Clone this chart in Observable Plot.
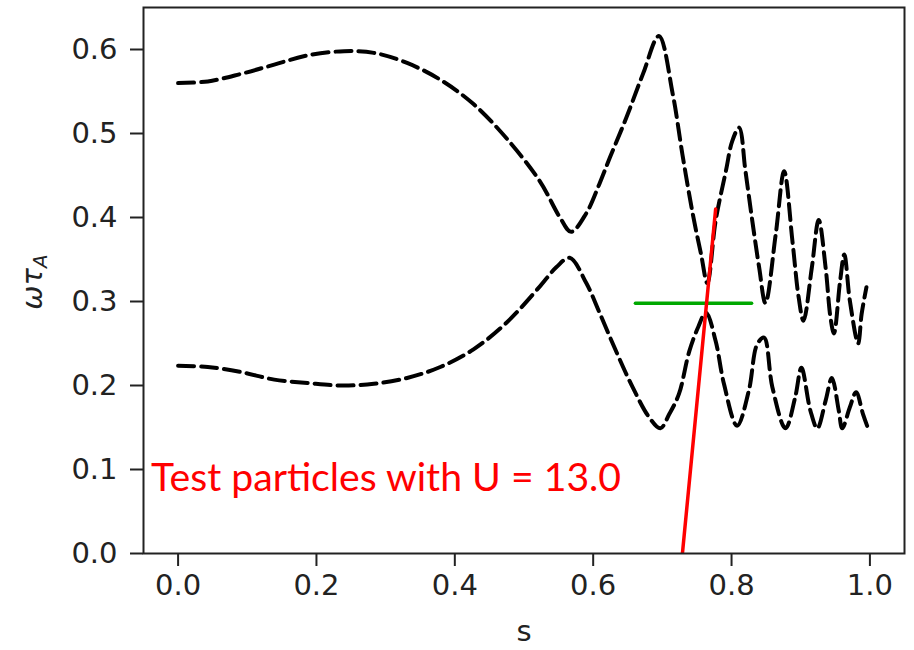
<!DOCTYPE html>
<html>
<head>
<meta charset="utf-8">
<script src="https://cdn.jsdelivr.net/npm/d3@7"></script>
<script src="https://cdn.jsdelivr.net/npm/@observablehq/plot@0.6"></script>
<style>
  html, body { margin: 0; padding: 0; background: white; }
  #chart svg { display: block; }
</style>
</head>
<body>
<div id="chart"></div>
<script>
// Upper branch (dashed)
const upperS = [0.000, 0.043, 0.091, 0.139, 0.187, 0.240, 0.283, 0.331, 0.379, 0.427, 0.475, 0.523, 0.552, 0.568, 0.590, 0.609, 0.624, 0.648, 0.672, 0.695, 0.715, 0.729, 0.744, 0.756, 0.765, 0.777, 0.792, 0.801, 0.811, 0.820, 0.830, 0.840, 0.849, 0.864, 0.876, 0.888, 0.897, 0.904, 0.916, 0.926, 0.936, 0.943, 0.948, 0.957, 0.963, 0.971, 0.983, 0.988, 0.995];
const upperW = [0.560, 0.562, 0.571, 0.582, 0.593, 0.598, 0.596, 0.584, 0.564, 0.535, 0.494, 0.443, 0.400, 0.383, 0.405, 0.440, 0.471, 0.519, 0.571, 0.616, 0.547, 0.475, 0.404, 0.356, 0.322, 0.396, 0.456, 0.491, 0.507, 0.456, 0.396, 0.340, 0.298, 0.381, 0.455, 0.372, 0.305, 0.277, 0.340, 0.397, 0.340, 0.281, 0.262, 0.325, 0.356, 0.301, 0.250, 0.285, 0.317];

// Lower branch (dashed)
const lowerS = [0.000, 0.043, 0.091, 0.139, 0.187, 0.235, 0.283, 0.331, 0.379, 0.427, 0.475, 0.523, 0.547, 0.566, 0.590, 0.609, 0.633, 0.657, 0.681, 0.697, 0.710, 0.724, 0.739, 0.752, 0.763, 0.777, 0.789, 0.808, 0.825, 0.837, 0.847, 0.859, 0.878, 0.892, 0.901, 0.914, 0.924, 0.936, 0.945, 0.955, 0.960, 0.971, 0.980, 0.990, 0.996];
const lowerW = [0.2235, 0.222, 0.216, 0.207, 0.203, 0.200, 0.202, 0.209, 0.222, 0.243, 0.275, 0.318, 0.341, 0.352, 0.322, 0.287, 0.241, 0.198, 0.162, 0.149, 0.166, 0.190, 0.241, 0.270, 0.287, 0.253, 0.202, 0.152, 0.194, 0.249, 0.257, 0.198, 0.149, 0.186, 0.221, 0.170, 0.149, 0.182, 0.209, 0.170, 0.149, 0.174, 0.192, 0.166, 0.152];

// Test particle line (red) and reference line (green)
const redS = [0.729, 0.777];
const redW = [0.0, 0.41];
const greenS = [0.661, 0.829];
const greenW = [0.298, 0.298];

// Annotation
const annotationText = ["Test particles with U = 13.0"];
const annotationS = [-0.039];
const annotationW = [0.074];

// Ticks and labels
const xTicks = [0.0, 0.2, 0.4, 0.6, 0.8, 1.0];
const yTicks = [0.0, 0.1, 0.2, 0.3, 0.4, 0.5, 0.6];
const xLabel = "s";
const yLabelMain = "ωτ";
const yLabelSub = "A";

const toRows = (xs, ys) => xs.map((s, i) => ({s, w: ys[i]}));
const upper = toRows(upperS, upperW);
const lower = toRows(lowerS, lowerW);
const red = toRows(redS, redW);
const green = toRows(greenS, greenW);
const notes = annotationText.map((t, i) => ({t, s: annotationS[i], w: annotationW[i]}));

const axisColor = "#222";
const tickFont = "DejaVu Sans";

const chart = Plot.plot({
  width: 914,
  height: 650,
  marginLeft: 143,
  marginRight: 10,
  marginTop: 7,
  marginBottom: 97,
  style: {fontFamily: tickFont, background: "white", color: axisColor},
  x: {domain: [-0.05, 1.05]},
  y: {domain: [0, 0.65]},
  marks: [
    Plot.line(upper, {x: "s", y: "w", stroke: "black", strokeWidth: 4, strokeDasharray: "16,7", curve: "catmull-rom"}),
    Plot.line(lower, {x: "s", y: "w", stroke: "black", strokeWidth: 4, strokeDasharray: "16,7", curve: "catmull-rom"}),
    Plot.line(green, {x: "s", y: "w", stroke: "#00a800", strokeWidth: 3.5}),
    Plot.line(red, {x: "s", y: "w", stroke: "#ff0000", strokeWidth: 3.5, clip: true}),
    Plot.text(notes, {x: "s", y: "w", text: "t", fill: "#ff0000", fontSize: 39.2, fontFamily: "Lato", textAnchor: "start", lineAnchor: "bottom"}),
    Plot.axisX({ticks: xTicks, tickFormat: d3.format(".1f"), tickSize: 13, tickPadding: 8, fontSize: 29, fontFamily: tickFont, label: null, color: axisColor, strokeWidth: 2}),
    Plot.axisY({ticks: yTicks, tickFormat: d3.format(".1f"), tickSize: 13, tickPadding: 13, fontSize: 29, fontFamily: tickFont, label: null, color: axisColor, strokeWidth: 2}),
    Plot.text([xLabel], {frameAnchor: "bottom", dy: 87, text: d => d, fontSize: 29, fontFamily: tickFont, fill: axisColor, lineAnchor: "bottom"}),
    Plot.frame({stroke: axisColor, strokeWidth: 2})
  ]
});

document.getElementById("chart").appendChild(chart);

// Y axis label with subscript (rotated)
const svg = d3.select(chart);
const yl = svg.append("text")
  .attr("transform", "translate(42,282) rotate(-90)")
  .attr("text-anchor", "middle")
  .attr("font-family", tickFont)
  .attr("font-style", "italic")
  .attr("fill", axisColor)
  .attr("font-size", 29);
yl.append("tspan").text(yLabelMain);
yl.append("tspan").attr("font-size", 20).attr("dy", 5).text(yLabelSub);
</script>
</body>
</html>
